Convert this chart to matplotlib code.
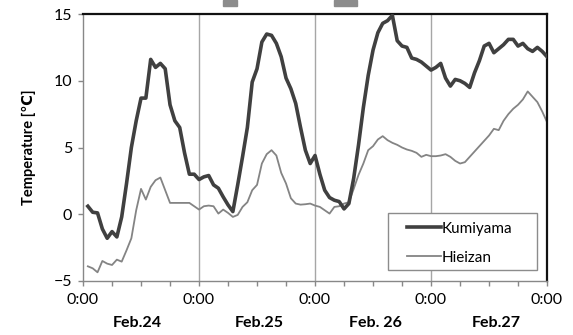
"""Air temperature at Kumiyama and Hieizan, Feb. 24-27."""

import matplotlib
matplotlib.use("Agg")
import matplotlib.pyplot as plt
import matplotlib.transforms as mtransforms
from matplotlib.patches import Rectangle

# hourly readings, hour 1 .. 96 counted from 0:00 Feb.24
hours = list(range(1, 97))
kumiyama = [
    0.6, 0.15, 0.1, -1.1, -1.8, -1.3, -1.7, -0.2, 2.3, 5.0, 7.0, 8.7,
    8.7, 11.6, 11.0, 11.3, 10.9, 8.2, 7.0, 6.5, 4.6, 3.0, 3.0, 2.6,
    2.8, 2.9, 2.2, 1.95, 1.3, 0.7, 0.2, 2.2, 4.3, 6.5, 9.9, 10.9,
    12.9, 13.5, 13.4, 12.8, 11.8, 10.2, 9.4, 8.3, 6.5, 4.8, 3.8, 4.4,
    3.0, 1.8, 1.25, 1.05, 0.95, 0.4, 0.8, 2.7, 5.2, 8.0, 10.4, 12.3,
    13.6, 14.3, 14.5, 14.9, 13.0, 12.6, 12.5, 11.7, 11.6, 11.4, 11.1, 10.8,
    11.0, 11.3, 10.2, 9.6, 10.1, 10.0, 9.8, 9.5, 10.6, 11.5, 12.6, 12.8,
    12.1, 12.4, 12.7, 13.1, 13.1, 12.6, 12.8, 12.4, 12.2, 12.5, 12.2, 11.8,
]
hieizan = [
    -3.9, -4.05, -4.35, -3.5, -3.7, -3.8, -3.4, -3.55, -2.7, -1.8, 0.3, 1.9,
    1.1, 2.05, 2.55, 2.75, 1.8, 0.85, 0.85, 0.85, 0.85, 0.85, 0.6, 0.35,
    0.6, 0.65, 0.6, 0.05, 0.35, 0.1, -0.2, -0.05, 0.55, 0.9, 1.8, 2.2,
    3.8, 4.5, 4.8, 4.4, 3.1, 2.3, 1.2, 0.8, 0.72, 0.75, 0.8, 0.65,
    0.55, 0.3, 0.05, 0.55, 0.6, 0.8, 0.9, 1.9, 2.95, 3.8, 4.8, 5.1,
    5.6, 5.85, 5.55, 5.35, 5.2, 5.0, 4.85, 4.75, 4.6, 4.3, 4.45, 4.35,
    4.35, 4.4, 4.5, 4.3, 4.0, 3.8, 3.9, 4.3, 4.7, 5.1, 5.5, 5.9,
    6.4, 6.3, 7.0, 7.5, 7.9, 8.2, 8.6, 9.2, 8.8, 8.4, 7.7, 6.9,
]
day_ticks = [0, 24, 48, 72, 96]
day_labels = ["Feb.24", "Feb.25", "Feb. 26", "Feb.27"]
day_label_x = [11.2, 36.4, 60.4, 85.5]

plt.rcParams["font.family"] = ["Lato", "DejaVu Sans"]

fig = plt.figure(figsize=(5.73, 3.35), dpi=100)
ax = fig.add_axes([0.1449, 0.1612, 0.8098, 0.797])

# vertical day separators
for d in day_ticks[1:-1]:
    ax.axvline(d, color="#a6a6a6", lw=1.0, zorder=1)

ax.plot(hours, kumiyama, color="#404040", lw=2.6, label="Kumiyama", zorder=3)
ax.plot(hours, hieizan, color="#848484", lw=1.3, label="Hieizan", zorder=2)

ax.set_xlim(0, 96)
ax.set_ylim(-5, 15)
ax.set_yticks([-5, 0, 5, 10, 15])
ax.set_xticks(day_ticks)
ax.set_xticklabels(["0:00"] * len(day_ticks))
ax.set_xticks(range(0, 97, 6), minor=True)

ax.tick_params(axis="both", which="both", direction="out", length=3.8,
               width=1.0, color="#888888", labelsize=11.5)
ax.tick_params(axis="x", which="major", pad=5)
ax.tick_params(axis="y", pad=4)

for side in ("left", "bottom"):
    ax.spines[side].set_color("#888888")
    ax.spines[side].set_linewidth(1.0)
for side in ("top", "right"):
    ax.spines[side].set_color("#111111")
    ax.spines[side].set_linewidth(1.6)

trans = mtransforms.blended_transform_factory(ax.transData, ax.transAxes)
for x, lab in zip(day_label_x, day_labels):
    ax.text(x, -0.157, lab, transform=trans, ha="center", va="center",
            fontsize=11.5, fontweight="bold")

ax.set_ylabel("Temperature [℃]", fontsize=10.5, fontweight="bold", labelpad=13)

# legend: Excel-style box drawn separately, entries placed inside it
ax.add_patch(Rectangle((0.657, 0.04), 0.321, 0.214, transform=ax.transAxes,
                       facecolor="white", edgecolor="#8c8c8c", lw=1.0,
                       zorder=4))
leg = ax.legend(loc="upper left", bbox_to_anchor=(0.698, 0.222), fontsize=11,
                frameon=False, handlelength=2.2, handletextpad=0.08,
                labelspacing=0.98, borderpad=0, borderaxespad=0)
leg.set_zorder(5)

# grey tabs cut off at the top edge
for x0, w in [(223, 14), (334, 23)]:
    fig.patches.append(Rectangle((x0 / 573, 1 - 6 / 335), w / 573, 6 / 335,
                                 transform=fig.transFigure, color="#8c8c8c"))

fig.savefig("out.png", dpi=100)
